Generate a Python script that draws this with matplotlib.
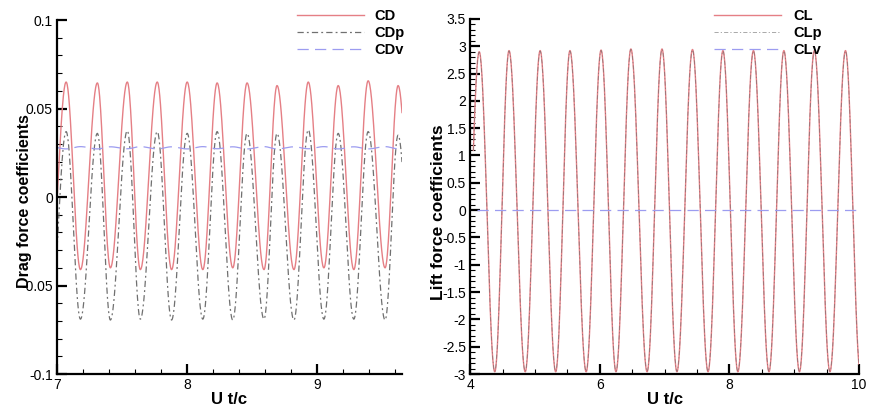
import numpy as np
import matplotlib.pyplot as plt
from matplotlib.ticker import MultipleLocator

plt.rcParams["font.family"] = ["Liberation Sans", "DejaVu Sans"]

# drag: times of alternating troughs / peaks of CD
drag_t = [6.95, 7.07, 7.18, 7.31, 7.41, 7.54, 7.64, 7.77, 7.88, 8.00, 8.12, 8.23, 8.35,
          8.46, 8.59, 8.69, 8.82, 8.93, 9.05, 9.16, 9.28, 9.39, 9.52, 9.62, 9.74]
cd = [-0.041, 0.065, -0.041, 0.0645, -0.040, 0.065, -0.041, 0.065, -0.041, 0.065, -0.041, 0.0645,
      -0.040, 0.0645, -0.041, 0.063, -0.041, 0.065, -0.040, 0.063, -0.041, 0.0657, -0.040, 0.063, -0.041]
cdp = [-0.069, 0.037, -0.069, 0.036, -0.0695, 0.0375, -0.069, 0.037, -0.0695, 0.036, -0.069, 0.037,
       -0.0695, 0.036, -0.069, 0.036, -0.0695, 0.038, -0.069, 0.036, -0.069, 0.037, -0.0695, 0.035, -0.069]
cdv = [0.0285, 0.0272, 0.0285, 0.0272, 0.0284, 0.0273, 0.0285, 0.0272, 0.0284, 0.0272, 0.0285, 0.0273,
       0.0284, 0.0272, 0.0285, 0.0272, 0.0284, 0.0273, 0.0285, 0.0272, 0.0284, 0.0272, 0.0285, 0.0273, 0.0284]

# lift: times of alternating troughs / peaks of CL
lift_t = [3.90, 4.14, 4.38, 4.60, 4.85, 5.08, 5.32, 5.54, 5.79, 6.02, 6.25, 6.48, 6.73, 6.96,
          7.19, 7.43, 7.67, 7.90, 8.13, 8.37, 8.61, 8.84, 9.08, 9.31, 9.55, 9.79, 10.02]
cl = [-2.95, 2.90, -2.96, 2.92, -2.96, 2.92, -2.96, 2.92, -2.96, 2.93, -2.96, 2.95, -2.96, 2.95,
      -2.96, 2.94, -2.96, 2.92, -2.96, 2.92, -2.96, 2.92, -2.96, 2.92, -2.96, 2.92, -2.96]
clp = [-2.94, 2.89, -2.95, 2.91, -2.95, 2.91, -2.95, 2.91, -2.95, 2.92, -2.95, 2.94, -2.95, 2.94,
       -2.95, 2.93, -2.95, 2.91, -2.95, 2.91, -2.95, 2.91, -2.95, 2.91, -2.95, 2.91, -2.95]
clv_t = [4.10, 10.02]
clv = [0.0, 0.0]

drag_start, drag_end = 7.0, 9.65
lift_start = 4.05


def smooth(times, values, n=40):
    # half-cosine joins between successive extrema
    ts, vs = [], []
    for i in range(len(times) - 1):
        s = np.linspace(0, 1, n, endpoint=False)
        w = (1 - np.cos(np.pi * s)) / 2
        ts.append(times[i] + (times[i + 1] - times[i]) * s)
        vs.append(values[i] + (values[i + 1] - values[i]) * w)
    ts.append([times[-1]])
    vs.append([values[-1]])
    return np.concatenate(ts), np.concatenate(vs)


def style_axes(ax):
    ax.spines["top"].set_visible(False)
    ax.spines["right"].set_visible(False)
    ax.spines["left"].set_linewidth(1.6)
    ax.spines["bottom"].set_linewidth(1.6)
    ax.tick_params(which="major", direction="in", length=7, width=1.6, labelsize=10, pad=3)
    ax.tick_params(which="minor", direction="in", length=3.5, width=0.8)


fig = plt.figure(figsize=(8.69, 4.12), dpi=100)
ax1 = fig.add_axes([0.0656, 0.0922, 0.397, 0.859])
ax2 = fig.add_axes([0.541, 0.0922, 0.4476, 0.862])

red = "#e57f85"
gray = "#707070"
blue = "#9c9cf0"

# DRAG
t, v = smooth(drag_t, cd)
m = (t >= drag_start) & (t <= drag_end)
ax1.plot(t[m], v[m], color=red, lw=1.0, label="CD")
t, v = smooth(drag_t, cdp)
m = (t >= drag_start) & (t <= drag_end)
ax1.plot(t[m], v[m], color=gray, lw=0.9, dashes=[5, 2.5, 1.5, 2.5], label="CDp")
t, v = smooth(drag_t, cdv)
m = (t >= drag_start) & (t <= drag_end)
ax1.plot(t[m], v[m], color=blue, lw=0.9, dashes=[9, 5], label="CDv")

ax1.set_xlim(7, 9.65)
ax1.set_ylim(-0.1, 0.1)
ax1.set_xticks([7, 8, 9])
ax1.set_yticks([-0.1, -0.05, 0, 0.05, 0.1])
ax1.set_yticklabels(["-0.1", "-0.05", "0", "0.05", "0.1"])
ax1.xaxis.set_minor_locator(MultipleLocator(0.2))
ax1.yaxis.set_minor_locator(MultipleLocator(0.01))
style_axes(ax1)
ax1.set_xlabel("U t/c", fontsize=12, fontweight="bold")
ax1.set_ylabel("Drag force coefficients", fontsize=11.5, fontweight="bold")
ax1.xaxis.set_label_coords(0.5, -0.05)
ax1.yaxis.set_label_coords(-0.072, 0.49)
ax1.legend(loc="upper left", bbox_to_anchor=(0.342, 0.978), bbox_transform=fig.transFigure,
           frameon=False, borderpad=0, borderaxespad=0, handlelength=4.6, handletextpad=0.7,
           labelspacing=0.2, prop={"weight": "bold", "size": 10.5})

# LIFT
t, v = smooth(lift_t, cl)
m = (t >= lift_start) & (t <= 10)
ax2.plot(t[m], v[m], color=red, lw=1.0, label="CL")
t, v = smooth(lift_t, clp)
m = (t >= lift_start) & (t <= 10)
ax2.plot(t[m], v[m], color=gray, lw=0.6, dashes=[5, 2.5, 1.5, 2.5], alpha=0.7, label="CLp")
ax2.plot(clv_t, clv, color=blue, lw=0.9, dashes=[9, 5], label="CLv", clip_on=False)

ax2.set_xlim(4, 10)
ax2.set_ylim(-3, 3.5)
ax2.set_xticks([4, 6, 8, 10])
ax2.set_yticks(np.arange(-3, 3.51, 0.5))
ax2.set_yticklabels(["-3", "-2.5", "-2", "-1.5", "-1", "-0.5", "0", "0.5", "1", "1.5", "2", "2.5", "3", "3.5"])
ax2.xaxis.set_minor_locator(MultipleLocator(0.5))
ax2.yaxis.set_minor_locator(MultipleLocator(0.1))
style_axes(ax2)
ax2.set_xlabel("U t/c", fontsize=12, fontweight="bold")
ax2.set_ylabel("Lift force coefficients", fontsize=12.5, fontweight="bold")
ax2.xaxis.set_label_coords(0.5, -0.05)
ax2.yaxis.set_label_coords(-0.062, 0.456)
ax2.legend(loc="upper left", bbox_to_anchor=(0.822, 0.978), bbox_transform=fig.transFigure,
           frameon=False, borderpad=0, borderaxespad=0, handlelength=4.6, handletextpad=0.85,
           labelspacing=0.2, prop={"weight": "bold", "size": 10.5})

fig.savefig("out.png", dpi=100)
